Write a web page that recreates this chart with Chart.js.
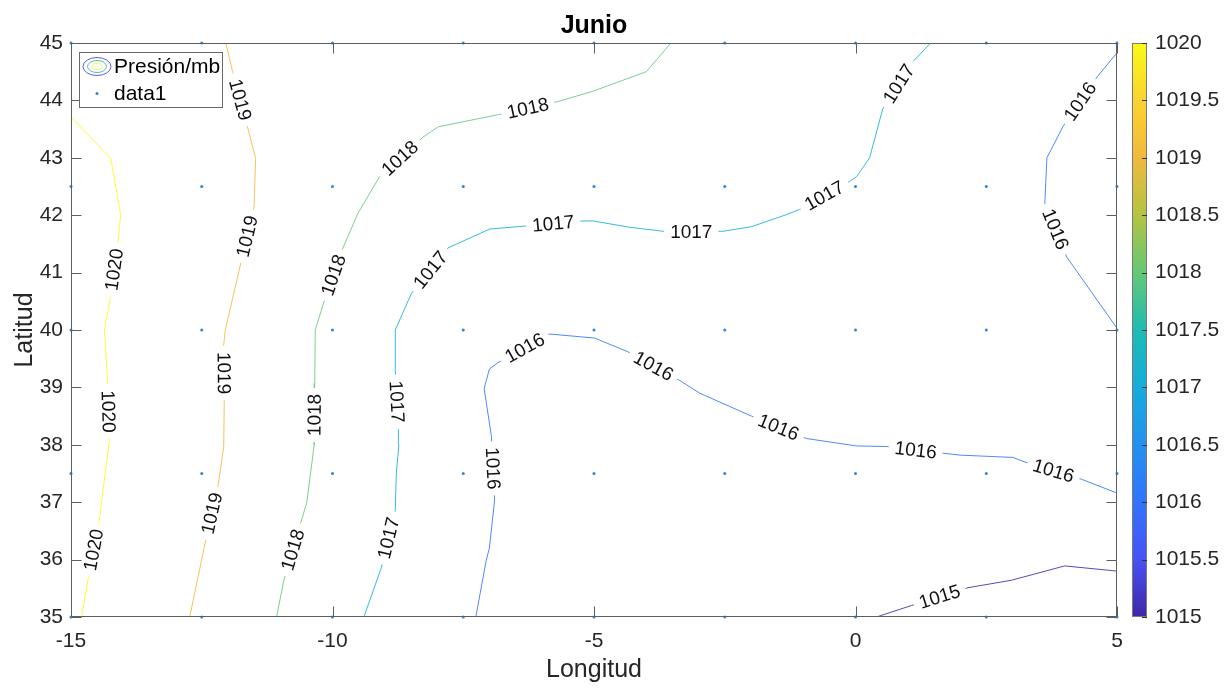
<!DOCTYPE html>
<html><head><meta charset="utf-8">
<script src="https://cdn.jsdelivr.net/npm/chart.js@4/dist/chart.umd.min.js"></script>
<style>html,body{margin:0;padding:0;background:#fff;} #c{display:block;}</style>
</head><body>
<canvas id="c" width="1230" height="689"></canvas>
<script>
// ---------- data ----------
const chartTitle = 'Junio';
const xTitle = 'Longitud';
const yTitle = 'Latitud';
const legendNames = ['Presión/mb', 'data1'];

const xTicks = [-15, -10, -5, 0, 5];
const yTicks = [35, 36, 37, 38, 39, 40, 41, 42, 43, 44, 45];
const cbTicks = [1015, 1015.5, 1016, 1016.5, 1017, 1017.5, 1018, 1018.5, 1019, 1019.5, 1020];

const gridLon = [-15, -12.5, -10, -7.5, -5, -2.5, 0, 2.5, 5];
const gridLat = [35, 37.5, 40, 42.5, 45];

// contour vertices [lon, lat]
const line1015 = [[0.4,35.0],[1.07,35.2],[2.15,35.51],[2.98,35.64],[4.0,35.89],[5.0,35.8]];
const line1016a = [[-7.26,35.0],[-7.06,35.99],[-7.0,36.2],[-6.9,37.04],[-6.96,38.14],[-7.1,38.98],[-7.0,39.32],[-6.84,39.43],[-5.85,39.93],[-4.99,39.86],[-4.35,39.62],[-3.36,39.12],[-2.98,38.9],[-1.99,38.5],[-0.94,38.11],[0.02,37.98],[0.59,37.97],[1.71,37.85],[2.0,37.82],[3.01,37.78],[3.24,37.7],[4.32,37.4],[5.0,37.16]];
const line1016b = [[5.0,44.83],[4.63,44.42],[3.97,43.55],[3.66,43.0],[3.62,42.21],[4.04,41.27],[5.0,40.03]];
const line1017 = [[-9.4,35.0],[-9.07,35.85],[-8.8,36.86],[-8.78,37.5],[-8.73,38.0],[-8.74,38.26],[-8.8,39.3],[-8.8,40.0],[-8.49,40.64],[-7.79,41.43],[-6.99,41.76],[-6.32,41.81],[-5.21,41.9],[-5.02,41.9],[-4.32,41.79],[-3.68,41.72],[-2.53,41.72],[-1.99,41.8],[-1.32,42.01],[-1.07,42.1],[-0.11,42.59],[0.02,42.67],[0.27,43.0],[0.52,43.85],[1.1,44.68],[1.44,45.0]];
const line1018 = [[-3.53,45.0],[-4.0,44.5],[-5.02,44.16],[-5.69,43.98],[-6.84,43.75],[-7.98,43.54],[-8.27,43.36],[-9.1,42.67],[-9.51,42.04],[-9.8,41.43],[-10.18,40.44],[-10.33,40.0],[-10.34,39.07],[-10.35,38.0],[-10.49,37.0],[-10.61,36.63],[-10.93,35.64],[-11.07,35.0]];
const line1019 = [[-12.04,45.0],[-11.91,44.5],[-11.62,43.52],[-11.47,42.99],[-11.5,42.15],[-11.77,41.1],[-12.05,40.0],[-12.08,39.74],[-12.07,38.72],[-12.08,37.97],[-12.18,37.33],[-12.43,36.31],[-12.73,35.0]];
const line1020 = [[-15.0,43.71],[-14.24,42.99],[-14.05,42.01],[-14.1,41.54],[-14.26,40.52],[-14.36,40.0],[-14.3,39.1],[-14.27,38.05],[-14.45,36.75],[-14.67,35.67],[-14.8,35.0]];

// contour label anchor points [lon, lat]
const labels1015 = [[1.61,35.35]];
const labels1016a = [[-6.94,37.59],[-6.32,39.68],[-3.87,39.36],[-1.48,38.29],[1.15,37.9],[3.78,37.53]];
const labels1016b = [[4.25,44.01],[3.78,41.74]];
const labels1017 = [[-8.91,36.37],[-8.79,38.75],[-8.17,41.08],[-5.78,41.85],[-3.14,41.67],[-0.59,42.33],[0.81,44.3]];
const labels1018 = [[-6.26,43.84],[-8.71,42.99],[-9.99,40.96],[-10.36,38.52],[-10.72,36.16]];
const labels1019 = [[-11.77,44.01],[-11.62,41.63],[-12.06,39.25],[-12.28,36.8]];
const labels1020 = [[-14.16,41.05],[-14.30,38.58],[-14.58,36.17]];

const contours = [
  {level: 1015, pts: line1015, labels: labels1015},
  {level: 1016, pts: line1016a, labels: labels1016a},
  {level: 1016, pts: line1016b, labels: labels1016b},
  {level: 1017, pts: line1017, labels: labels1017},
  {level: 1018, pts: line1018, labels: labels1018},
  {level: 1019, pts: line1019, labels: labels1019},
  {level: 1020, pts: line1020, labels: labels1020}
];

// ---------- styles ----------
const FONT = '"Liberation Sans", Arial, Helvetica, sans-serif';
const AXIS_COLOR = '#262626';
const parula = [
  [0.00,[62,38,168]],[0.10,[72,82,244]],[0.20,[50,115,250]],[0.30,[35,145,240]],
  [0.40,[22,172,220]],[0.50,[30,188,180]],[0.60,[100,200,118]],[0.70,[180,195,66]],
  [0.80,[240,186,60]],[0.90,[252,210,48]],[1.00,[249,251,21]]
];
function rgbAt(t){
  t = Math.max(0, Math.min(1, t));
  for (let i = 1; i < parula.length; i++) {
    if (t <= parula[i][0]) {
      const [t0,c0] = parula[i-1], [t1,c1] = parula[i];
      const f = (t - t0) / (t1 - t0);
      return c0.map((v,k)=>Math.round(v + (c1[k]-v)*f));
    }
  }
  return [249,251,21];
}
const cMin = cbTicks[0], cMax = cbTicks[cbTicks.length-1];
const levelRGB = lv => rgbAt((lv - cMin) / (cMax - cMin));
// thin-line look: blend a little toward white
const lineColor = lv => { const c = levelRGB(lv).map(v => Math.round(v + (255 - v) * 0.15)); return `rgb(${c[0]},${c[1]},${c[2]})`; };

// ---------- datasets ----------
const datasets = contours.map(c => ({
  label: String(c.level),
  data: c.pts.map(p => ({x: p[0], y: p[1]})),
  showLine: true, fill: false, tension: 0,
  borderColor: lineColor(c.level), borderWidth: 1,
  pointRadius: 0, pointHoverRadius: 0
}));
const gridPts = [];
gridLat.forEach(la => gridLon.forEach(lo => gridPts.push({x: lo, y: la})));
datasets.push({
  label: legendNames[1], data: gridPts, showLine: false,
  pointRadius: 1.5, pointHoverRadius: 1.5, backgroundColor: '#2f86cf', borderWidth: 0, clip: false
});

// ---------- plugins ----------
const contourLabels = {
  id: 'contourLabels',
  afterDatasetsDraw(chart){
    const {ctx} = chart; const xs = chart.scales.x, ys = chart.scales.y;
    ctx.save();
    ctx.font = '19px ' + FONT;
    ctx.textAlign = 'center'; ctx.textBaseline = 'middle';
    contours.forEach(c => {
      const px = c.pts.map(p => [xs.getPixelForValue(p[0]), ys.getPixelForValue(p[1])]);
      c.labels.forEach(l => {
        const lx = xs.getPixelForValue(l[0]), ly = ys.getPixelForValue(l[1]);
        let best = null;
        for (let i = 0; i < px.length - 1; i++) {
          const [ax, ay] = px[i], [bx, by] = px[i+1];
          const dx = bx-ax, dy = by-ay, L2 = dx*dx+dy*dy;
          let t = L2 ? ((lx-ax)*dx + (ly-ay)*dy)/L2 : 0;
          t = Math.max(0, Math.min(1, t));
          const qx = ax + t*dx, qy = ay + t*dy;
          const d = (qx-lx)**2 + (qy-ly)**2;
          if (!best || d < best.d) best = {d, x: qx, y: qy, ang: Math.atan2(dy, dx)};
        }
        let a = best.ang;
        if (a > Math.PI/2) a -= Math.PI;
        if (a <= -Math.PI/2) a += Math.PI;
        const txt = String(c.level);
        const w = ctx.measureText(txt).width;
        ctx.save();
        ctx.translate(best.x, best.y); ctx.rotate(a);
        ctx.fillStyle = '#fff'; ctx.fillRect(-w/2 - 6, -6, w + 12, 12);
        ctx.fillStyle = '#111'; ctx.fillText(txt, 0, 1);
        ctx.restore();
      });
    });
    ctx.restore();
  }
};

const frame = {
  id: 'frame',
  afterDraw(chart){
    const {ctx, chartArea: a} = chart; const xs = chart.scales.x, ys = chart.scales.y, cs = chart.scales.y2;
    ctx.save();
    // title centred over the axes
    ctx.fillStyle = '#000'; ctx.font = 'bold 25px ' + FONT; ctx.textAlign = 'center'; ctx.textBaseline = 'alphabetic';
    ctx.fillText(chartTitle, (a.left + a.right) / 2, 33);
    // axes box
    ctx.strokeStyle = '#5e5e5e'; ctx.lineWidth = 1;
    const L = Math.round(a.left)+0.5, R = Math.round(a.right)-0.5, T = Math.round(a.top)+0.5, B = Math.round(a.bottom)-0.5;
    ctx.strokeRect(L, T, R-L, B-T);
    ctx.beginPath();
    yTicks.forEach(v => { const p = Math.round(ys.getPixelForValue(v))+0.5;
      ctx.moveTo(L, p); ctx.lineTo(L+10, p); ctx.moveTo(R, p); ctx.lineTo(R-10, p); });
    xTicks.forEach(v => { const p = Math.round(xs.getPixelForValue(v))+0.5;
      ctx.moveTo(p, B); ctx.lineTo(p, B-10); ctx.moveTo(p, T); ctx.lineTo(p, T+10); });
    ctx.stroke();
    // colorbar
    const cx0 = Math.round(a.right) + 15, cw = 15;
    const cTop = cs.getPixelForValue(cMax), cBot = cs.getPixelForValue(cMin);
    const g = ctx.createLinearGradient(0, cBot, 0, cTop);
    parula.forEach(([t, c]) => g.addColorStop(t, `rgb(${c[0]},${c[1]},${c[2]})`));
    ctx.fillStyle = g; ctx.fillRect(cx0, cTop, cw, cBot - cTop);
    ctx.strokeStyle = '#7a7a7a';
    ctx.strokeRect(cx0+0.5, Math.round(cTop)+0.5, cw-1, Math.round(cBot-cTop)-1);
    ctx.strokeStyle = '#333'; ctx.beginPath();
    cbTicks.forEach(v => { const p = Math.round(cs.getPixelForValue(v))+0.5;
      ctx.moveTo(cx0+cw, p); ctx.lineTo(cx0+cw-5, p); });
    ctx.stroke();
    // legend
    const lx = 79.5, ly = 52.5, lw = 143, lh = 55;
    ctx.fillStyle = '#fff'; ctx.fillRect(lx, ly, lw, lh);
    ctx.strokeStyle = '#6a6a6a'; ctx.strokeRect(lx, ly, lw, lh);
    const ix = 97, iy1 = 66.5, iy2 = 93.5;
    [[14, 9, lineColor(1015.3)], [9.5, 6, lineColor(1017.3)], [5, 3.2, lineColor(1020)]].forEach(([rx, ry, col]) => {
      ctx.strokeStyle = col; ctx.beginPath(); ctx.ellipse(ix, iy1, rx, ry, 0, 0, Math.PI*2); ctx.stroke();
    });
    ctx.fillStyle = '#2f86cf'; ctx.beginPath(); ctx.arc(ix, iy2, 1.5, 0, Math.PI*2); ctx.fill();
    ctx.fillStyle = '#000'; ctx.font = '21px ' + FONT; ctx.textAlign = 'left'; ctx.textBaseline = 'middle';
    ctx.fillText(legendNames[0], 114, iy1 + 1);
    ctx.fillText(legendNames[1], 114, iy2 + 1);
    ctx.restore();
  }
};

const noPad = s => { s.paddingTop = 0; s.paddingBottom = 0; };
const tickFont = {family: FONT, size: 21};
new Chart(document.getElementById('c'), {
  type: 'scatter',
  data: {datasets},
  plugins: [contourLabels, frame],
  options: {
    responsive: false, animation: false, devicePixelRatio: 1,
    layout: {padding: {top: 43, left: 0, right: 0, bottom: 0}},
    plugins: {legend: {display: false}, tooltip: {enabled: false}, title: {display: false}},
    scales: {
      x: {type: 'linear', position: 'bottom', min: -15, max: 5,
        afterBuildTicks: s => { s.ticks = xTicks.map(v => ({value: v})); },
        ticks: {font: tickFont, color: AXIS_COLOR, padding: 12, callback: v => String(v)},
        grid: {display: false, drawTicks: false, tickLength: 0}, border: {display: false},
        title: {display: true, text: xTitle, color: AXIS_COLOR, font: {family: FONT, size: 25}, padding: {top: 0, bottom: 4}},
        afterFit: s => { s.height = 72; s.paddingLeft = 0; s.paddingRight = 0; }
      },
      y: {type: 'linear', position: 'left', min: 35, max: 45,
        afterBuildTicks: s => { s.ticks = yTicks.map(v => ({value: v})); },
        ticks: {font: tickFont, color: AXIS_COLOR, padding: 8, callback: v => String(v)},
        grid: {display: false, drawTicks: false, tickLength: 0}, border: {display: false},
        title: {display: true, text: yTitle, color: AXIS_COLOR, font: {family: FONT, size: 25}, padding: {top: 10, bottom: 0}},
        afterFit: s => { s.width = 71; noPad(s); }
      },
      y2: {type: 'linear', position: 'right', min: cMin, max: cMax,
        afterBuildTicks: s => { s.ticks = cbTicks.map(v => ({value: v})); },
        ticks: {font: tickFont, color: AXIS_COLOR, padding: 38, callback: v => String(v)},
        grid: {display: false, drawTicks: false, tickLength: 0}, border: {display: false},
        afterFit: s => { s.width = 113; noPad(s); }
      }
    }
  }
});
</script>
</body></html>
